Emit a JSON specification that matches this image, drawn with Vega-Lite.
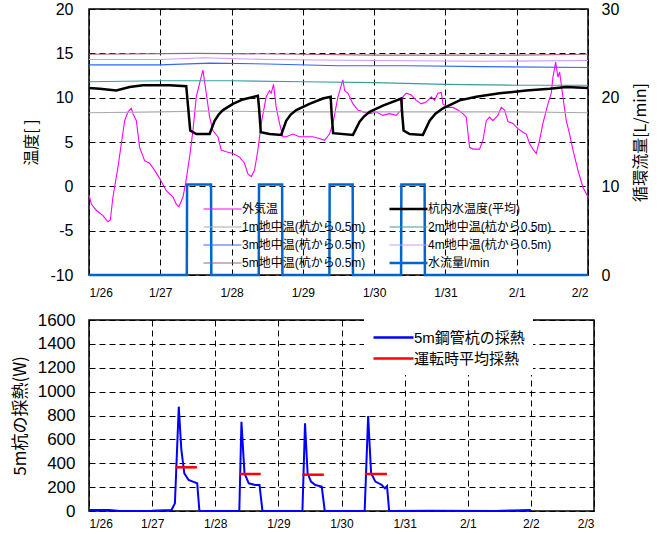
{
  "$schema": "https://vega.github.io/schema/vega-lite/v6.json",
  "padding": {"left": 10, "top": 0, "right": 5, "bottom": 0},
  "config": {
    "font": "Liberation Sans, Noto Sans CJK JP",
    "view": {"stroke": "black", "strokeWidth": 1.5},
    "axis": {
      "labelColor": "black", "titleColor": "black", "titleFontWeight": "normal",
      "ticks": false, "domain": false, "labelOverlap": false,
      "gridColor": "black", "gridDash": [6, 4], "gridWidth": 1, "gridOpacity": 1
    },
    "legend": {"labelColor": "black"}
  },
  "datasets": {
    "temps": [
      {"series": "外気温", "day": 0, "value": -1.0},
      {"series": "外気温", "day": 0.033, "value": -2.0},
      {"series": "外気温", "day": 0.103, "value": -2.7},
      {"series": "外気温", "day": 0.196, "value": -3.3},
      {"series": "外気温", "day": 0.266, "value": -4.0},
      {"series": "外気温", "day": 0.299, "value": -3.8},
      {"series": "外気温", "day": 0.336, "value": -1.2},
      {"series": "外気温", "day": 0.407, "value": 2.2},
      {"series": "外気温", "day": 0.453, "value": 4.8},
      {"series": "外気温", "day": 0.5, "value": 7.4},
      {"series": "外気温", "day": 0.547, "value": 8.4},
      {"series": "外気温", "day": 0.593, "value": 8.8},
      {"series": "外気温", "day": 0.617, "value": 8.2},
      {"series": "外気温", "day": 0.664, "value": 7.4},
      {"series": "外気温", "day": 0.71, "value": 4.4},
      {"series": "外気温", "day": 0.78, "value": 2.9},
      {"series": "外気温", "day": 0.85, "value": 2.6},
      {"series": "外気温", "day": 0.921, "value": 1.8},
      {"series": "外気温", "day": 0.991, "value": 0.9},
      {"series": "外気温", "day": 1.084, "value": -0.5},
      {"series": "外気温", "day": 1.178, "value": -1.2},
      {"series": "外気温", "day": 1.224, "value": -2.0},
      {"series": "外気温", "day": 1.262, "value": -2.3},
      {"series": "外気温", "day": 1.318, "value": -1.2},
      {"series": "外気温", "day": 1.355, "value": 0.3},
      {"series": "外気温", "day": 1.411, "value": 3.3},
      {"series": "外気温", "day": 1.458, "value": 6.3},
      {"series": "外気温", "day": 1.505, "value": 10.1},
      {"series": "外気温", "day": 1.551, "value": 11.6},
      {"series": "外気温", "day": 1.598, "value": 13.1},
      {"series": "外気温", "day": 1.645, "value": 10.5},
      {"series": "外気温", "day": 1.692, "value": 7.8},
      {"series": "外気温", "day": 1.738, "value": 6.3},
      {"series": "外気温", "day": 1.808, "value": 5.6},
      {"series": "外気温", "day": 1.855, "value": 4.1},
      {"series": "外気温", "day": 1.925, "value": 3.9},
      {"series": "外気温", "day": 2.019, "value": 3.7},
      {"series": "外気温", "day": 2.112, "value": 3.3},
      {"series": "外気温", "day": 2.182, "value": 2.6},
      {"series": "外気温", "day": 2.229, "value": 1.4},
      {"series": "外気温", "day": 2.276, "value": 1.1},
      {"series": "外気温", "day": 2.322, "value": 1.8},
      {"series": "外気温", "day": 2.369, "value": 4.1},
      {"series": "外気温", "day": 2.416, "value": 7.1},
      {"series": "外気温", "day": 2.486, "value": 10.1},
      {"series": "外気温", "day": 2.533, "value": 10.8},
      {"series": "外気温", "day": 2.556, "value": 10.5},
      {"series": "外気温", "day": 2.589, "value": 11.5},
      {"series": "外気温", "day": 2.626, "value": 8.9},
      {"series": "外気温", "day": 2.673, "value": 7.1},
      {"series": "外気温", "day": 2.72, "value": 5.6},
      {"series": "外気温", "day": 2.766, "value": 5.6},
      {"series": "外気温", "day": 2.86, "value": 5.9},
      {"series": "外気温", "day": 2.953, "value": 5.6},
      {"series": "外気温", "day": 3.047, "value": 5.6},
      {"series": "外気温", "day": 3.14, "value": 5.6},
      {"series": "外気温", "day": 3.234, "value": 5.4},
      {"series": "外気温", "day": 3.304, "value": 5.2},
      {"series": "外気温", "day": 3.374, "value": 5.9},
      {"series": "外気温", "day": 3.422, "value": 7.1},
      {"series": "外気温", "day": 3.492, "value": 10.1},
      {"series": "外気温", "day": 3.562, "value": 12.0},
      {"series": "外気温", "day": 3.586, "value": 10.8},
      {"series": "外気温", "day": 3.633, "value": 10.5},
      {"series": "外気温", "day": 3.703, "value": 9.3},
      {"series": "外気温", "day": 3.773, "value": 8.6},
      {"series": "外気温", "day": 3.843, "value": 8.4},
      {"series": "外気温", "day": 3.936, "value": 8.2},
      {"series": "外気温", "day": 4.03, "value": 8.4},
      {"series": "外気温", "day": 4.123, "value": 8.0},
      {"series": "外気温", "day": 4.217, "value": 8.2},
      {"series": "外気温", "day": 4.31, "value": 8.0},
      {"series": "外気温", "day": 4.38, "value": 8.6},
      {"series": "外気温", "day": 4.404, "value": 10.1},
      {"series": "外気温", "day": 4.451, "value": 10.5},
      {"series": "外気温", "day": 4.521, "value": 10.3},
      {"series": "外気温", "day": 4.591, "value": 9.7},
      {"series": "外気温", "day": 4.661, "value": 9.3},
      {"series": "外気温", "day": 4.731, "value": 9.5},
      {"series": "外気温", "day": 4.801, "value": 10.1},
      {"series": "外気温", "day": 4.848, "value": 9.7},
      {"series": "外気温", "day": 4.895, "value": 10.5},
      {"series": "外気温", "day": 4.942, "value": 10.6},
      {"series": "外気温", "day": 4.965, "value": 9.3},
      {"series": "外気温", "day": 5.035, "value": 8.9},
      {"series": "外気温", "day": 5.105, "value": 8.9},
      {"series": "外気温", "day": 5.175, "value": 8.6},
      {"series": "外気温", "day": 5.245, "value": 8.2},
      {"series": "外気温", "day": 5.292, "value": 7.8},
      {"series": "外気温", "day": 5.339, "value": 4.4},
      {"series": "外気温", "day": 5.386, "value": 4.2},
      {"series": "外気温", "day": 5.479, "value": 4.2},
      {"series": "外気温", "day": 5.526, "value": 5.2},
      {"series": "外気温", "day": 5.573, "value": 7.4},
      {"series": "外気温", "day": 5.619, "value": 7.8},
      {"series": "外気温", "day": 5.666, "value": 7.4},
      {"series": "外気温", "day": 5.736, "value": 8.0},
      {"series": "外気温", "day": 5.783, "value": 8.9},
      {"series": "外気温", "day": 5.83, "value": 8.6},
      {"series": "外気温", "day": 5.877, "value": 7.3},
      {"series": "外気温", "day": 5.947, "value": 7.1},
      {"series": "外気温", "day": 6.017, "value": 6.5},
      {"series": "外気温", "day": 6.087, "value": 6.1},
      {"series": "外気温", "day": 6.134, "value": 5.9},
      {"series": "外気温", "day": 6.181, "value": 4.8},
      {"series": "外気温", "day": 6.227, "value": 4.2},
      {"series": "外気温", "day": 6.274, "value": 3.7},
      {"series": "外気温", "day": 6.321, "value": 5.2},
      {"series": "外気温", "day": 6.368, "value": 7.1},
      {"series": "外気温", "day": 6.438, "value": 9.3},
      {"series": "外気温", "day": 6.485, "value": 10.5},
      {"series": "外気温", "day": 6.508, "value": 12.3},
      {"series": "外気温", "day": 6.546, "value": 14.0},
      {"series": "外気温", "day": 6.578, "value": 12.3},
      {"series": "外気温", "day": 6.602, "value": 12.9},
      {"series": "外気温", "day": 6.648, "value": 10.1},
      {"series": "外気温", "day": 6.695, "value": 7.4},
      {"series": "外気温", "day": 6.742, "value": 5.9},
      {"series": "外気温", "day": 6.789, "value": 4.1},
      {"series": "外気温", "day": 6.859, "value": 1.8},
      {"series": "外気温", "day": 6.929, "value": -0.1},
      {"series": "外気温", "day": 7.0, "value": -1.2},

      {"series": "1m地中温(杭から0.5m)", "day": 0, "value": 8.3},
      {"series": "1m地中温(杭から0.5m)", "day": 1, "value": 8.4},
      {"series": "1m地中温(杭から0.5m)", "day": 1.6, "value": 8.5},
      {"series": "1m地中温(杭から0.5m)", "day": 3, "value": 8.4},
      {"series": "1m地中温(杭から0.5m)", "day": 4, "value": 8.4},
      {"series": "1m地中温(杭から0.5m)", "day": 5, "value": 8.4},
      {"series": "1m地中温(杭から0.5m)", "day": 6, "value": 8.4},
      {"series": "1m地中温(杭から0.5m)", "day": 7, "value": 8.3},

      {"series": "2m地中温(杭から0.5m)", "day": 0, "value": 11.8},
      {"series": "2m地中温(杭から0.5m)", "day": 1, "value": 11.9},
      {"series": "2m地中温(杭から0.5m)", "day": 2, "value": 11.9},
      {"series": "2m地中温(杭から0.5m)", "day": 3, "value": 11.8},
      {"series": "2m地中温(杭から0.5m)", "day": 4, "value": 11.7},
      {"series": "2m地中温(杭から0.5m)", "day": 5, "value": 11.5},
      {"series": "2m地中温(杭から0.5m)", "day": 6, "value": 11.4},
      {"series": "2m地中温(杭から0.5m)", "day": 7, "value": 11.4},

      {"series": "3m地中温(杭から0.5m)", "day": 0, "value": 13.7},
      {"series": "3m地中温(杭から0.5m)", "day": 1, "value": 13.7},
      {"series": "3m地中温(杭から0.5m)", "day": 1.7, "value": 13.9},
      {"series": "3m地中温(杭から0.5m)", "day": 2.5, "value": 13.8},
      {"series": "3m地中温(杭から0.5m)", "day": 3.5, "value": 13.6},
      {"series": "3m地中温(杭から0.5m)", "day": 4.5, "value": 13.6},
      {"series": "3m地中温(杭から0.5m)", "day": 5.5, "value": 13.5},
      {"series": "3m地中温(杭から0.5m)", "day": 7, "value": 13.4},

      {"series": "4m地中温(杭から0.5m)", "day": 0, "value": 14.3},
      {"series": "4m地中温(杭から0.5m)", "day": 1, "value": 14.3},
      {"series": "4m地中温(杭から0.5m)", "day": 1.6, "value": 14.5},
      {"series": "4m地中温(杭から0.5m)", "day": 2.5, "value": 14.3},
      {"series": "4m地中温(杭から0.5m)", "day": 4, "value": 14.2},
      {"series": "4m地中温(杭から0.5m)", "day": 5.5, "value": 14.1},
      {"series": "4m地中温(杭から0.5m)", "day": 7, "value": 14.2},

      {"series": "5m地中温(杭から0.5m)", "day": 0, "value": 14.9},
      {"series": "5m地中温(杭から0.5m)", "day": 1.5, "value": 15.0},
      {"series": "5m地中温(杭から0.5m)", "day": 3, "value": 14.9},
      {"series": "5m地中温(杭から0.5m)", "day": 4, "value": 14.8},
      {"series": "5m地中温(杭から0.5m)", "day": 5, "value": 14.8},
      {"series": "5m地中温(杭から0.5m)", "day": 6, "value": 14.8},
      {"series": "5m地中温(杭から0.5m)", "day": 7, "value": 14.9},

      {"series": "杭内水温度(平均)", "day": 0, "value": 11.1},
      {"series": "杭内水温度(平均)", "day": 0.15, "value": 11.0},
      {"series": "杭内水温度(平均)", "day": 0.383, "value": 10.8},
      {"series": "杭内水温度(平均)", "day": 0.57, "value": 11.2},
      {"series": "杭内水温度(平均)", "day": 0.757, "value": 11.4},
      {"series": "杭内水温度(平均)", "day": 1.131, "value": 11.4},
      {"series": "杭内水温度(平均)", "day": 1.364, "value": 11.3},
      {"series": "杭内水温度(平均)", "day": 1.39, "value": 9.0},
      {"series": "杭内水温度(平均)", "day": 1.42, "value": 6.3},
      {"series": "杭内水温度(平均)", "day": 1.505, "value": 5.9},
      {"series": "杭内水温度(平均)", "day": 1.692, "value": 5.9},
      {"series": "杭内水温度(平均)", "day": 1.762, "value": 7.4},
      {"series": "杭内水温度(平均)", "day": 1.82, "value": 8.1},
      {"series": "杭内水温度(平均)", "day": 1.879, "value": 8.6},
      {"series": "杭内水温度(平均)", "day": 2.019, "value": 9.3},
      {"series": "杭内水温度(平均)", "day": 2.159, "value": 9.8},
      {"series": "杭内水温度(平均)", "day": 2.369, "value": 10.2},
      {"series": "杭内水温度(平均)", "day": 2.385, "value": 8.9},
      {"series": "杭内水温度(平均)", "day": 2.41, "value": 6.1},
      {"series": "杭内水温度(平均)", "day": 2.533, "value": 5.9},
      {"series": "杭内水温度(平均)", "day": 2.696, "value": 5.8},
      {"series": "杭内水温度(平均)", "day": 2.766, "value": 7.4},
      {"series": "杭内水温度(平均)", "day": 2.83, "value": 8.1},
      {"series": "杭内水温度(平均)", "day": 2.907, "value": 8.6},
      {"series": "杭内水温度(平均)", "day": 3.093, "value": 9.3},
      {"series": "杭内水温度(平均)", "day": 3.28, "value": 9.9},
      {"series": "杭内水温度(平均)", "day": 3.39, "value": 10.1},
      {"series": "杭内水温度(平均)", "day": 3.405, "value": 8.0},
      {"series": "杭内水温度(平均)", "day": 3.425, "value": 6.0},
      {"series": "杭内水温度(平均)", "day": 3.703, "value": 5.8},
      {"series": "杭内水温度(平均)", "day": 3.796, "value": 7.3},
      {"series": "杭内水温度(平均)", "day": 3.86, "value": 7.9},
      {"series": "杭内水温度(平均)", "day": 3.936, "value": 8.4},
      {"series": "杭内水温度(平均)", "day": 4.123, "value": 9.1},
      {"series": "杭内水温度(平均)", "day": 4.38, "value": 9.9},
      {"series": "杭内水温度(平均)", "day": 4.395, "value": 8.0},
      {"series": "杭内水温度(平均)", "day": 4.413, "value": 6.3},
      {"series": "杭内水温度(平均)", "day": 4.497, "value": 5.9},
      {"series": "杭内水温度(平均)", "day": 4.684, "value": 5.8},
      {"series": "杭内水温度(平均)", "day": 4.778, "value": 7.4},
      {"series": "杭内水温度(平均)", "day": 4.86, "value": 8.2},
      {"series": "杭内水温度(平均)", "day": 4.965, "value": 8.8},
      {"series": "杭内水温度(平均)", "day": 5.199, "value": 9.7},
      {"series": "杭内水温度(平均)", "day": 5.433, "value": 10.1},
      {"series": "杭内水温度(平均)", "day": 5.76, "value": 10.5},
      {"series": "杭内水温度(平均)", "day": 6.134, "value": 10.8},
      {"series": "杭内水温度(平均)", "day": 6.461, "value": 11.0},
      {"series": "杭内水温度(平均)", "day": 6.695, "value": 11.2},
      {"series": "杭内水温度(平均)", "day": 7.0, "value": 11.1}
    ],
    "flow": [
      {"series": "水流量l/min", "day": 0, "flow": 0},
      {"series": "水流量l/min", "day": 1.372, "flow": 0},
      {"series": "水流量l/min", "day": 1.376, "flow": 10.2},
      {"series": "水流量l/min", "day": 1.712, "flow": 10.2},
      {"series": "水流量l/min", "day": 1.716, "flow": 0},
      {"series": "水流量l/min", "day": 2.381, "flow": 0},
      {"series": "水流量l/min", "day": 2.385, "flow": 10.2},
      {"series": "水流量l/min", "day": 2.709, "flow": 10.2},
      {"series": "水流量l/min", "day": 2.713, "flow": 0},
      {"series": "水流量l/min", "day": 3.372, "flow": 0},
      {"series": "水流量l/min", "day": 3.376, "flow": 10.2},
      {"series": "水流量l/min", "day": 3.699, "flow": 10.2},
      {"series": "水流量l/min", "day": 3.703, "flow": 0},
      {"series": "水流量l/min", "day": 4.378, "flow": 0},
      {"series": "水流量l/min", "day": 4.382, "flow": 10.2},
      {"series": "水流量l/min", "day": 4.708, "flow": 10.2},
      {"series": "水流量l/min", "day": 4.712, "flow": 0},
      {"series": "水流量l/min", "day": 7, "flow": 0}
    ],
    "heat": [
      {"series": "5m鋼管杭の採熱", "day": 0, "heat": 8},
      {"series": "5m鋼管杭の採熱", "day": 0.32, "heat": 8},
      {"series": "5m鋼管杭の採熱", "day": 0.49, "heat": 0},
      {"series": "5m鋼管杭の採熱", "day": 1.0, "heat": 2},
      {"series": "5m鋼管杭の採熱", "day": 1.306, "heat": 8},
      {"series": "5m鋼管杭の採熱", "day": 1.361, "heat": 64},
      {"series": "5m鋼管杭の採熱", "day": 1.422, "heat": 874},
      {"series": "5m鋼管杭の採熱", "day": 1.463, "heat": 511},
      {"series": "5m鋼管杭の採熱", "day": 1.51, "heat": 316},
      {"series": "5m鋼管杭の採熱", "day": 1.578, "heat": 260},
      {"series": "5m鋼管杭の採熱", "day": 1.646, "heat": 246},
      {"series": "5m鋼管杭の採熱", "day": 1.714, "heat": 232},
      {"series": "5m鋼管杭の採熱", "day": 1.748, "heat": 8},
      {"series": "5m鋼管杭の採熱", "day": 1.762, "heat": 0},
      {"series": "5m鋼管杭の採熱", "day": 2.381, "heat": 0},
      {"series": "5m鋼管杭の採熱", "day": 2.415, "heat": 748},
      {"series": "5m鋼管杭の採熱", "day": 2.463, "heat": 316},
      {"series": "5m鋼管杭の採熱", "day": 2.531, "heat": 232},
      {"series": "5m鋼管杭の採熱", "day": 2.633, "heat": 218},
      {"series": "5m鋼管杭の採熱", "day": 2.701, "heat": 218},
      {"series": "5m鋼管杭の採熱", "day": 2.748, "heat": 0},
      {"series": "5m鋼管杭の採熱", "day": 3.381, "heat": 0},
      {"series": "5m鋼管杭の採熱", "day": 3.422, "heat": 735},
      {"series": "5m鋼管杭の採熱", "day": 3.463, "heat": 316},
      {"series": "5m鋼管杭の採熱", "day": 3.517, "heat": 246},
      {"series": "5m鋼管杭の採熱", "day": 3.585, "heat": 218},
      {"series": "5m鋼管杭の採熱", "day": 3.687, "heat": 204},
      {"series": "5m鋼管杭の採熱", "day": 3.735, "heat": 0},
      {"series": "5m鋼管杭の採熱", "day": 4.367, "heat": 0},
      {"series": "5m鋼管杭の採熱", "day": 4.422, "heat": 796},
      {"series": "5m鋼管杭の採熱", "day": 4.469, "heat": 316},
      {"series": "5m鋼管杭の採熱", "day": 4.537, "heat": 246},
      {"series": "5m鋼管杭の採熱", "day": 4.639, "heat": 218},
      {"series": "5m鋼管杭の採熱", "day": 4.687, "heat": 190},
      {"series": "5m鋼管杭の採熱", "day": 4.721, "heat": 209},
      {"series": "5m鋼管杭の採熱", "day": 4.755, "heat": 0},
      {"series": "5m鋼管杭の採熱", "day": 5.42, "heat": 3},
      {"series": "5m鋼管杭の採熱", "day": 6.44, "heat": 0},
      {"series": "5m鋼管杭の採熱", "day": 6.71, "heat": 5},
      {"series": "5m鋼管杭の採熱", "day": 7.0, "heat": 8}
    ],
    "avg": [
      {"series": "運転時平均採熱", "start": 1.37, "end": 1.71, "heat": 366},
      {"series": "運転時平均採熱", "start": 2.38, "end": 2.72, "heat": 310},
      {"series": "運転時平均採熱", "start": 3.38, "end": 3.72, "heat": 304},
      {"series": "運転時平均採熱", "start": 4.37, "end": 4.72, "heat": 310}
    ]
  },
  "vconcat": [
    {
      "width": 499,
      "height": 266,
      "layer": [
        {
          "data": {"name": "temps"},
          "mark": {"type": "line", "interpolate": "linear"},
          "encoding": {
            "x": {"field": "day", "type": "quantitative", "scale": {"domain": [0, 7], "nice": false},
              "axis": {"values": [0, 1, 2, 3, 4, 5, 6, 7], "title": null, "labelFontSize": 12, "labelPadding": 12,
                "labelExpr": "['1/26','1/27','1/28','1/29','1/30','1/31','2/1','2/2'][datum.value]", "grid": true}},
            "y": {"field": "value", "type": "quantitative", "scale": {"domain": [-10, 20], "nice": false},
              "axis": {"values": [-10, -5, 0, 5, 10, 15, 20], "title": "温度[ ]", "labelFontSize": 16, "labelPadding": 16,
                "labelExpr": "datum.value < 0 ? '-' + abs(datum.value) : '' + datum.value",
                "titleFontSize": 16, "titlePadding": 10, "grid": true, "titleFont": "Noto Sans CJK JP"}},
            "color": {"field": "series", "type": "nominal",
              "scale": {"domain": ["外気温", "1m地中温(杭から0.5m)", "3m地中温(杭から0.5m)", "5m地中温(杭から0.5m)", "杭内水温度(平均)", "2m地中温(杭から0.5m)", "4m地中温(杭から0.5m)", "水流量l/min"],
                "range": ["#ff00ff", "#aaaaaa", "#3366ff", "#a8607e", "#000000", "#3a9d9d", "#cc99ff", "#0066cc"]},
              "legend": {"title": null, "orient": "none", "legendX": 118, "legendY": 194, "columns": 2, "columnPadding": 18,
                "rowPadding": 6, "labelFontSize": 12, "labelFont": "Liberation Sans, Noto Sans CJK JP",
                "symbolType": "M-1,0H3", "symbolSize": 361, "labelOffset": 23, "labelLimit": 200,
                "encode": {"symbols": {"update": {"strokeWidth": {"signal": "datum.value === '杭内水温度(平均)' || datum.value === '水流量l/min' ? 2.5 : 1.2"}}}}}},
            "strokeWidth": {"condition": {"test": "datum.series === '杭内水温度(平均)'", "value": 2.5}, "value": 1.1}
          }
        },
        {
          "data": {"name": "flow"},
          "mark": {"type": "line", "strokeWidth": 2.5},
          "encoding": {
            "x": {"field": "day", "type": "quantitative", "scale": {"domain": [0, 7], "nice": false},
              "axis": {"values": [0, 1, 2, 3, 4, 5, 6, 7], "title": null, "labelFontSize": 12, "labelPadding": 12,
                "labelExpr": "['1/26','1/27','1/28','1/29','1/30','1/31','2/1','2/2'][datum.value]", "grid": true}},
            "y": {"field": "flow", "type": "quantitative", "scale": {"domain": [0, 30], "nice": false},
              "axis": {"orient": "right", "values": [0, 10, 20, 30], "title": "循環流量[L/min]", "labelFontSize": 16,
                "labelPadding": 13, "titleFontSize": 16, "titleAngle": 270, "titleBaseline": "top", "titlePadding": 14, "grid": false, "titleFont": "Noto Sans CJK JP"}},
            "color": {"field": "series", "type": "nominal"}
          }
        }
      ],
      "resolve": {"scale": {"y": "independent"}}
    },
    {
      "width": 505,
      "height": 191,
      "layer": [
        {
          "data": {"name": "heat"},
          "mark": {"type": "line", "strokeWidth": 2},
          "encoding": {
            "x": {"field": "day", "type": "quantitative", "scale": {"domain": [0, 8], "nice": false},
              "axis": {"values": [0, 1, 2, 3, 4, 5, 6, 7, 8], "title": null, "labelFontSize": 12, "labelPadding": 7,
                "labelExpr": "['1/26','1/27','1/28','1/29','1/30','1/31','2/1','2/2','2/3'][datum.value]", "grid": true}},
            "y": {"field": "heat", "type": "quantitative", "scale": {"domain": [0, 1600], "nice": false},
              "axis": {"values": [0, 200, 400, 600, 800, 1000, 1200, 1400, 1600], "labelExpr": "'' + datum.value", "labelOverlap": false, "labelBound": false,
                "title": "5m杭の採熱(W)", "labelFontSize": 17,
                "labelPadding": 14, "titleFontSize": 17, "titlePadding": 8, "grid": true, "titleFont": "Noto Sans CJK JP"}},
            "color": {"field": "series", "type": "nominal",
              "scale": {"domain": ["5m鋼管杭の採熱", "運転時平均採熱"], "range": ["#0000ff", "#ff0000"]},
              "legend": {"title": null, "orient": "none", "legendX": 275, "legendY": -2, "rowPadding": 1, "padding": 8, "fillColor": "white",
                "labelFontSize": 15, "labelFont": "Liberation Sans, Noto Sans CJK JP",
                "symbolType": "M-1,0H3", "symbolSize": 400, "symbolStrokeWidth": 2.5, "labelOffset": 19}}
          }
        },
        {
          "data": {"name": "avg"},
          "mark": {"type": "rule", "strokeWidth": 2.5},
          "encoding": {
            "x": {"field": "start", "type": "quantitative", "scale": {"domain": [0, 8], "nice": false},
              "axis": {"values": [0, 1, 2, 3, 4, 5, 6, 7, 8], "title": null, "labelFontSize": 12, "labelPadding": 7,
                "labelExpr": "['1/26','1/27','1/28','1/29','1/30','1/31','2/1','2/2','2/3'][datum.value]", "grid": true}},
            "x2": {"field": "end"},
            "y": {"field": "heat", "type": "quantitative", "scale": {"domain": [0, 1600], "nice": false},
              "axis": {"values": [0, 200, 400, 600, 800, 1000, 1200, 1400, 1600], "labelExpr": "'' + datum.value", "labelOverlap": false, "labelBound": false,
                "title": "5m杭の採熱(W)", "labelFontSize": 17,
                "labelPadding": 14, "titleFontSize": 17, "titlePadding": 8, "grid": true, "titleFont": "Noto Sans CJK JP"}},
            "color": {"field": "series", "type": "nominal"}
          }
        }
      ]
    }
  ],
  "spacing": 11,
  "resolve": {"scale": {"color": "independent"}, "legend": {"color": "independent"}}
}
